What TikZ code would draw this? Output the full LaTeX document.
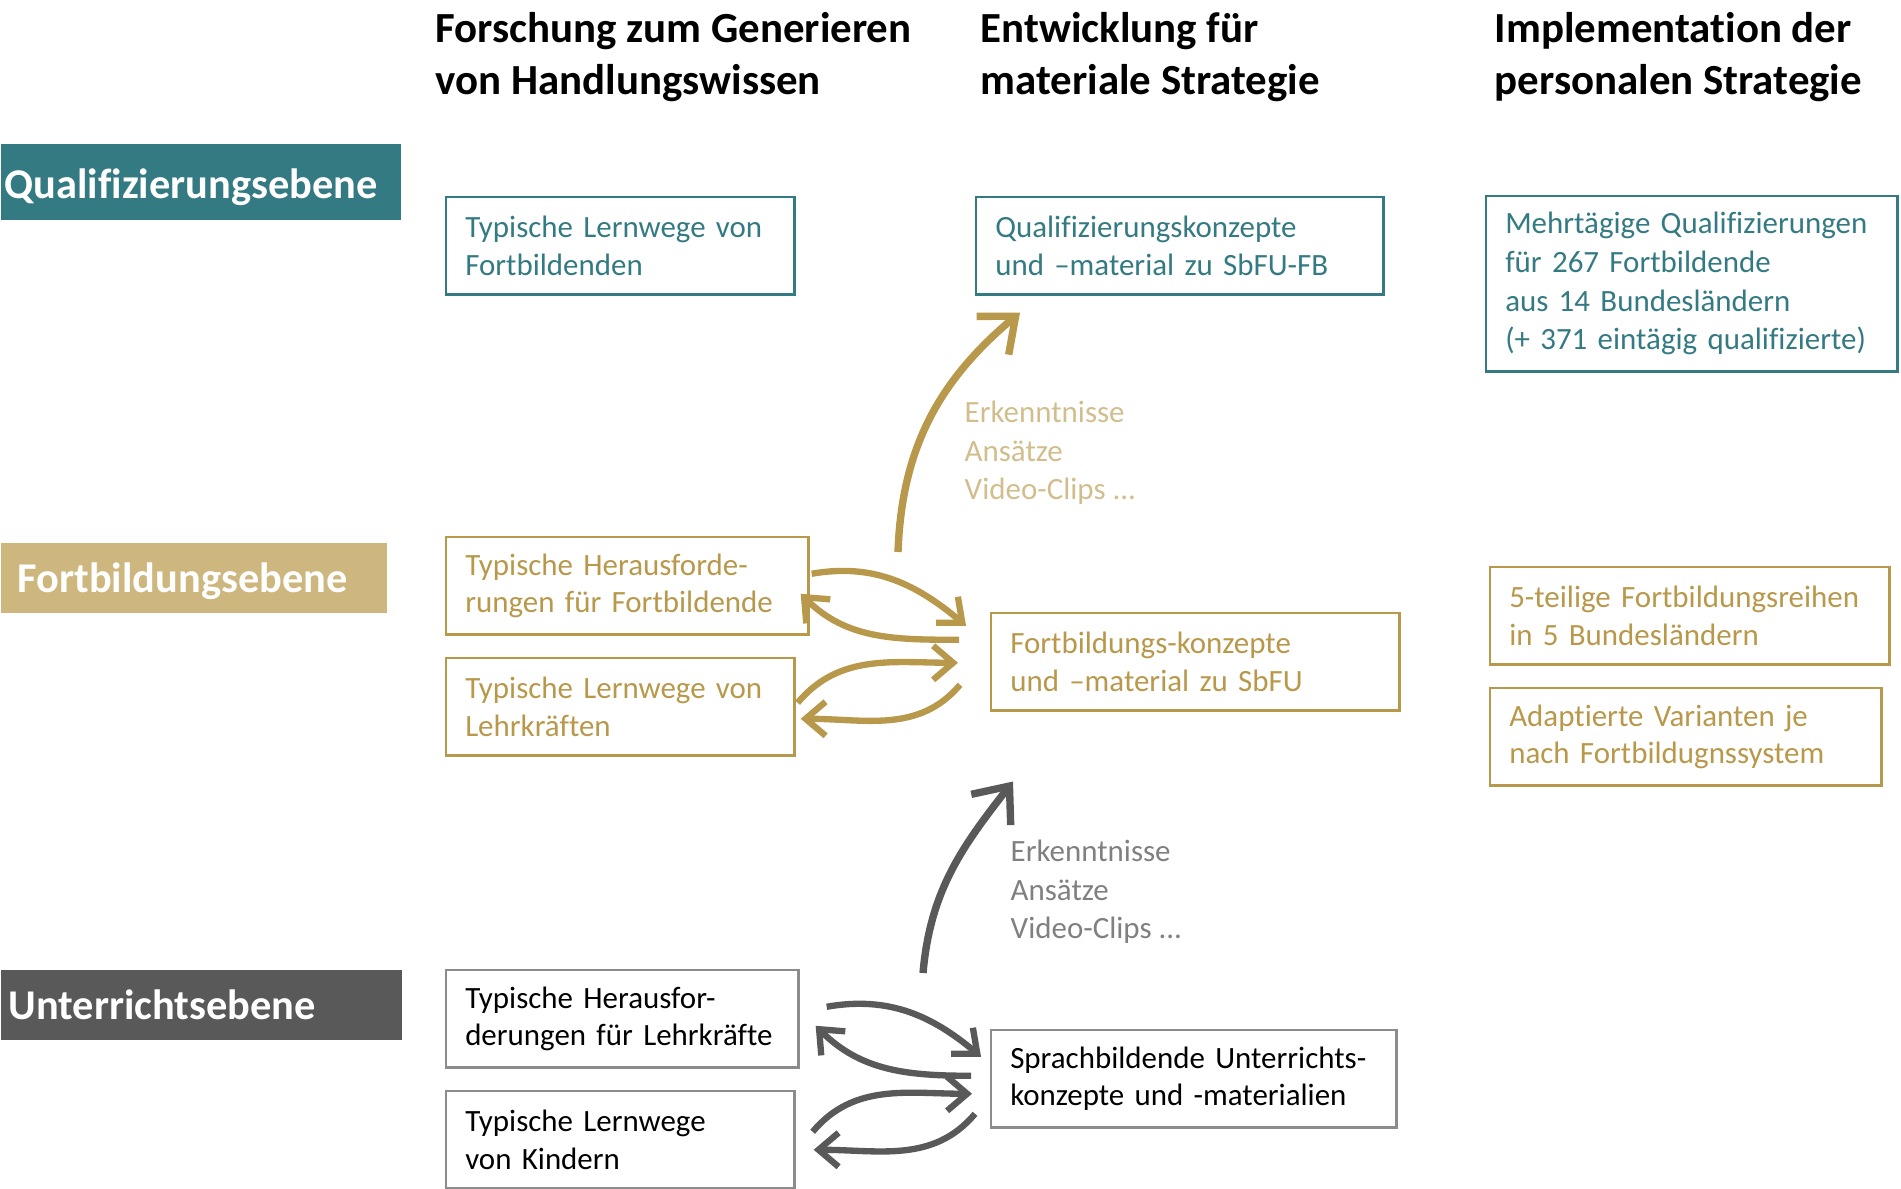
\documentclass[tikz,border=0pt]{standalone}
\usepackage{fontspec}
\setmainfont{Carlito}[Ligatures=CommonOff]
\usepackage{tikz}
\usetikzlibrary{arrows.meta,calc,positioning}

\definecolor{qteal}{RGB}{52,122,130}
\definecolor{fgold}{RGB}{184,152,74}
\definecolor{fgoldfill}{RGB}{205,183,126}
\definecolor{fgoldtext}{RGB}{210,190,140}
\definecolor{ugray}{RGB}{89,89,89}
\definecolor{ugrayline}{RGB}{140,140,140}
\definecolor{ugraytext}{RGB}{128,128,128}

\begin{document}
\begin{tikzpicture}[x=0.01cm,y=-0.01cm,
    head/.style={anchor=west,inner sep=0pt,align=left,font=\fontsize{12.2}{14.8}\selectfont\bfseries},
    lvl/.style={anchor=north west,inner ysep=0pt,align=left,text=white,font=\fontsize{12.05}{14}\selectfont\bfseries},
    box/.style={draw,anchor=north west,line width=0.7pt,inner xsep=0.19cm,inner ysep=0pt,
      minimum height=0.97cm,align=left,font=\fontsize{8.8}{10.7}\selectfont},
    qbox/.style={box,draw=qteal,text=qteal},
    fbox/.style={box,draw=fgold,text=fgold},
    ubox/.style={box,draw=ugrayline,text=black},
    note/.style={anchor=west,inner sep=0pt,align=left,font=\fontsize{8.8}{10.9}\selectfont},
    garr/.style={fgold,line width=1.8pt,-{Straight Barb[length=2mm,width=3.4mm]}},
    uarr/.style={ugray,line width=1.8pt,-{Straight Barb[length=2mm,width=3.4mm]}},
    gbig/.style={fgold,line width=2.1pt,-{Straight Barb[length=3mm,width=5mm]}},
    ubig/.style={ugray,line width=2.1pt,-{Straight Barb[length=3mm,width=5mm]}}]
  \useasboundingbox (0,0) rectangle (1901,1188);

  \node[head] (h1) at (435,57) {Forschung zum Generieren\\von Handlungswissen};
  \node[head] (h2) at (980,57) {Entwicklung für\\materiale Strategie};
  \node[head] (h3) at (1494,57) {Implementation der\\personalen Strategie};

  \node[lvl,fill=qteal,text width=3.92cm,inner xsep=0.04cm,minimum height=0.76cm] (lq) at (0,143) {\raisebox{-1.7pt}[\height][\depth]{Qualifizierungsebene}};
  \node[lvl,fill=fgoldfill,text width=3.52cm,inner xsep=0.17cm,minimum height=0.70cm] (lf) at (0,542) {\raisebox{-1pt}[\height][\depth]{Fortbildungsebene}};
  \node[lvl,fill=ugray,text width=3.85cm,inner xsep=0.08cm,minimum height=0.70cm] (lu) at (0,969) {Unterrichtsebene};

  \node[qbox,text width=3.10cm] (q1) at (445,196) {Typische Lernwege von\\Fortbildenden};
  \node[qbox,text width=3.69cm] (q2) at (975,196) {Qualifizierungskonzepte\\und –material zu SbFU-FB};
  \node[qbox,text width=3.73cm,minimum height=1.75cm,font=\fontsize{8.8}{11}\selectfont] (q3) at (1485,195)
    {Mehrtägige Qualifizierungen\\für 267 Fortbildende\\aus 14 Bundesländern\\(+ 371 eintägig qualifizierte)};

  \node[fbox,text width=3.24cm] (f1) at (445,536) {Typische Herausforde-\\rungen für Fortbildende};
  \node[fbox,text width=3.10cm] (f2) at (445,657) {Typische Lernwege von\\Lehrkräften};
  \node[fbox,text width=3.70cm] (f3) at (990,612) {Fortbildungs-konzepte\\und –material zu SbFU};
  \node[fbox,text width=3.61cm] (f4) at (1489,566) {5-teilige Fortbildungsreihen\\in 5 Bundesländern};
  \node[fbox,text width=3.53cm] (f5) at (1489,687) {Adaptierte Varianten je\\nach Fortbildugnssystem};

  \node[ubox,text width=3.14cm] (u1) at (445,969) {Typische Herausfor-\\derungen für Lehrkräfte};
  \node[ubox,text width=3.10cm] (u2) at (445,1090) {Typische Lernwege\\von Kindern};
  \node[ubox,text width=3.67cm] (u3) at (990,1029) {Sprachbildende Unterrichts-\\konzepte und -materialien};

  \node[note,text=fgoldtext] (kf) at (964,453) {Erkenntnisse\\Ansätze\\Video-Clips ...};
  \node[note,text=ugraytext] (ku) at (1010,892) {Erkenntnisse\\Ansätze\\Video-Clips ...};

  \draw[gbig] ($(f3.north west)+(-92,-60)$) to [out=88,in=220] ($(q2.south west)+(45,17)$);
  \draw[ubig] ($(u3.north west)+(-67,-56)$) to [out=85,in=232] ($(f3.south west)+(23,70)$);

  \draw[garr] ($(f1.east)+(2,-12)$) to [out=10,in=140] ($(f3.west)+(-24,-36)$);
  \draw[garr] ($(f3.west)+(-31,-22)$) to [out=180,in=-45] ($(f1.east)+(-9,8)$);
  \draw[garr] ($(f2.east)+(2,-4)$) to [out=50,in=180] ($(f3.west)+(-32,1)$);
  \draw[garr] ($(f3.west)+(-30,23)$) to [out=230,in=0] ($(f2.east)+(5,12)$);

  \draw[uarr] ($(u1.east)+(27,-12)$) to [out=10,in=140] ($(u3.west)+(-9,-22)$);
  \draw[uarr] ($(u3.west)+(-19,-3)$) to [out=180,in=-45] ($(u1.east)+(16,7)$);
  \draw[uarr] ($(u2.east)+(17,-8)$) to [out=50,in=180] ($(u3.west)+(-18,15)$);
  \draw[uarr] ($(u3.west)+(-15,35)$) to [out=230,in=0] ($(u2.east)+(18,10)$);
\end{tikzpicture}
\end{document}
